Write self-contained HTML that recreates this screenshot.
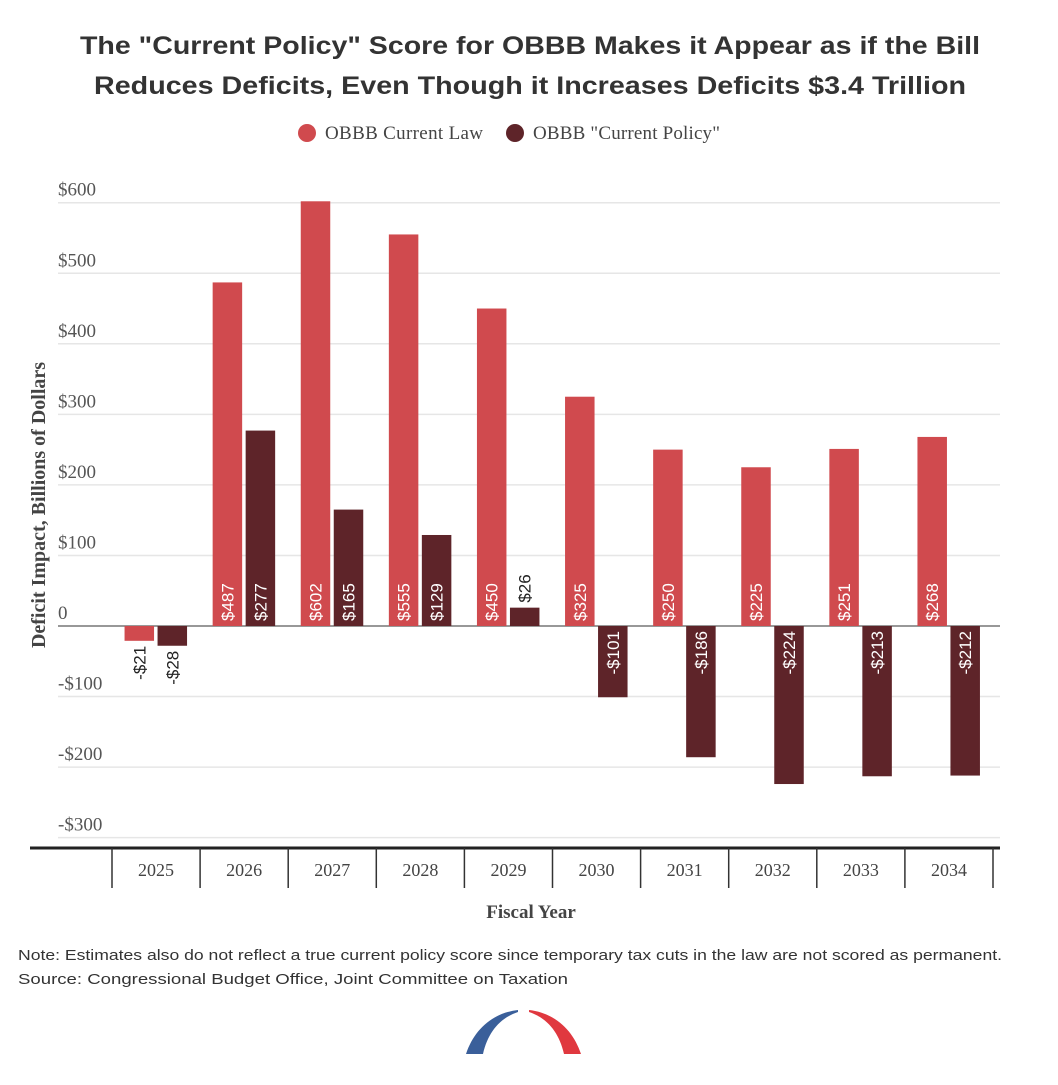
<!DOCTYPE html>
<html><head><meta charset="utf-8"><style>
body{margin:0;background:#fff;width:1058px;height:1080px;overflow:hidden;font-family:"Liberation Serif",serif}
</style></head><body>
<svg width="1058" height="1080" xmlns="http://www.w3.org/2000/svg">
<text x="80" y="54" textLength="900" lengthAdjust="spacingAndGlyphs" font-family="Liberation Sans" font-weight="bold" font-size="25" fill="#333">The "Current Policy" Score for OBBB Makes it Appear as if the Bill</text>
<text x="94" y="94" textLength="872" lengthAdjust="spacingAndGlyphs" font-family="Liberation Sans" font-weight="bold" font-size="25" fill="#333">Reduces Deficits, Even Though it Increases Deficits $3.4 Trillion</text>
<g>
<circle cx="307" cy="133" r="9" fill="#d04a4e"/>
<text x="325" y="139" font-size="19" textLength="158" fill="#444">OBBB Current Law</text>
<circle cx="515" cy="133" r="9" fill="#5e2429"/>
<text x="533" y="139" font-size="19" textLength="187" fill="#444">OBBB "Current Policy"</text>
</g>
<g id="plot"></g>
<text transform="translate(45,505) rotate(-90)" text-anchor="middle" font-size="20" font-weight="bold" fill="#444">Deficit Impact, Billions of Dollars</text>
<text x="531" y="918" text-anchor="middle" font-size="19" font-weight="bold" fill="#444">Fiscal Year</text>
<text x="18" y="960" textLength="984" lengthAdjust="spacingAndGlyphs" font-family="Liberation Sans" font-size="15" fill="#333">Note: Estimates also do not reflect a true current policy score since temporary tax cuts in the law are not scored as permanent.</text>
<text x="18" y="984" textLength="550" lengthAdjust="spacingAndGlyphs" font-family="Liberation Sans" font-size="15" fill="#333">Source: Congressional Budget Office, Joint Committee on Taxation</text>
<g>
<path d="M466,1054 C474,1030 492,1013 518,1010 L518,1012 C500,1018 488,1032 483,1054 Z" fill="#3a5f9a"/>
<path d="M529,1010 C555,1013 573,1030 581,1054 L564,1054 C559,1032 547,1018 529,1012 Z" fill="#e0383f"/>
</g>
</svg>
<script>
const years=["2025","2026","2027","2028","2029","2030","2031","2032","2033","2034"];
const currentLaw=[-21,487,602,555,450,325,250,225,251,268];
const currentPolicy=[-28,277,165,129,26,-101,-186,-224,-213,-212];
const yTicks=[600,500,400,300,200,100,0,-100,-200,-300];
const NS="http://www.w3.org/2000/svg";
const g=document.getElementById('plot');
const y=v=>626-v*0.7055;
const x0=112,cw=88.1;
function mk(t,a){const e=document.createElementNS(NS,t);for(const k in a)e.setAttribute(k,a[k]);g.appendChild(e);return e;}
yTicks.forEach(t=>{
 const l=mk('line',{x1:58,x2:1000,y1:y(t),y2:y(t),stroke:t===0?'#777':'#e6e6e6','stroke-width':1.5});
 
 
 const tx=mk('text',{x:58,y:y(t)-7,'font-size':19,fill:'#555'});
 tx.textContent=t===0?'0':(t<0?'-$'+(-t):'$'+t);
 
 
});
const ax=mk('line',{x1:30,x2:1000,y1:848,y2:848,stroke:'#222','stroke-width':3});


for(let i=0;i<=years.length;i++){
 const tk=mk('line',{x1:x0+i*cw,x2:x0+i*cw,y1:848,y2:888,stroke:'#333','stroke-width':1.5});
 
 
}
function bar(v,xl,col,name){
 const top=Math.min(y(v),y(0)),h=Math.abs(y(v)-y(0));
 const r=mk('rect',{x:xl,y:top,width:29.5,height:h,fill:col});
 
 
 const lbl=(v<0?'-$':'$')+Math.abs(v);
 const inside=Math.abs(v)>=60;
 const cx=xl+14.75+6;
 let ty,anchor,fill;
 if(v>=0){ if(inside){ty=y(0)-5;anchor='start';fill='#fff';} else {ty=y(v)-5;anchor='start';fill='#222';} }
 else { if(inside){ty=y(0)+5;anchor='end';fill='#fff';} else {ty=y(v)+5;anchor='end';fill='#222';} }
 const t=mk('text',{transform:`translate(${cx},${ty}) rotate(-90)`,'text-anchor':anchor,'font-size':17,fill:fill,'font-family':'Liberation Sans'});
 t.textContent=lbl;
 
 
}
years.forEach((yr,i)=>{
 const c=x0+i*cw+cw/2;
 bar(currentLaw[i],c-31.5,'#d04a4e','bar-current-law-'+yr);
 bar(currentPolicy[i],c+1.5,'#5e2429','bar-current-policy-'+yr);
 const t=mk('text',{x:c,y:876,'text-anchor':'middle','font-size':18,fill:'#444'});
 t.textContent=yr;
 
 
});
</script>
</body></html>
